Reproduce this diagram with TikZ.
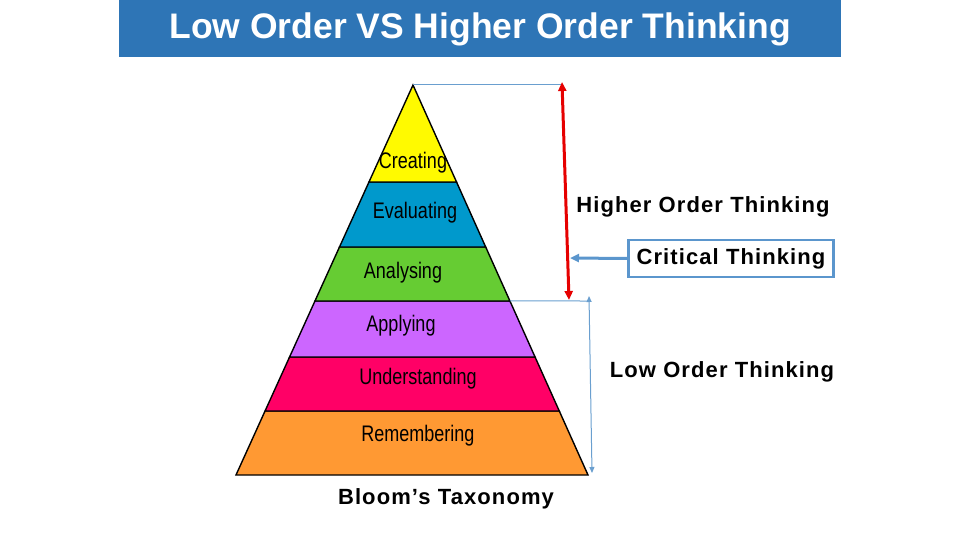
\documentclass[tikz,border=0pt]{standalone}
\usepackage{fontspec}
\setmainfont{Liberation Sans}
\newfontfamily\lblfont[FakeStretch=0.8]{Liberation Sans}
\newfontfamily\annfont[LetterSpace=5]{Liberation Sans}
\usetikzlibrary{calc,arrows.meta}
\definecolor{titleblue}{RGB}{46,117,182}
\definecolor{lnblue}{RGB}{106,159,207}
\definecolor{boxblue}{RGB}{91,150,205}
\definecolor{cYellow}{RGB}{255,250,0}
\definecolor{cBlue}{RGB}{0,153,204}
\definecolor{cGreen}{RGB}{102,204,51}
\definecolor{cPurple}{RGB}{204,102,255}
\definecolor{cPink}{RGB}{255,0,102}
\definecolor{cOrange}{RGB}{255,153,51}
\definecolor{cRed}{RGB}{230,0,0}
\tikzset{
  layer/.style={draw=black, line width=1.4pt, line join=miter},
  lbl/.style={font=\lblfont\fontsize{22.5}{22.5}\selectfont, inner sep=0pt, anchor=center},
  ann/.style={font=\annfont\bfseries\fontsize{22}{22}\selectfont, inner sep=0pt, anchor=center},
  thinblue/.style={draw=lnblue, line width=1pt},
}
\begin{document}
\begin{tikzpicture}[x=1pt,y=-1pt]
\useasboundingbox (0,0) rectangle (960,540);
% title
\fill[titleblue] (119,0) rectangle (841,57);
\node[font=\bfseries\fontsize{35.5}{35.5}\selectfont, text=white, inner sep=0pt] (title) at (480,29) {Low Order VS Higher Order Thinking};
% pyramid
\coordinate (apex) at (413,85);
\coordinate (bl) at (236,475);
\coordinate (br) at (588,475);
\foreach \n/\t in {a/0.2487, b/0.4154, c/0.5538, d/0.6974, e/0.8359}{
  \coordinate (L\n) at ($(apex)!\t!(bl)$);
  \coordinate (R\n) at ($(apex)!\t!(br)$);
}
\filldraw[layer, fill=cOrange] (Le) -- (Re) -- (br) -- (bl) -- cycle;
\filldraw[layer, fill=cPink] (Ld) -- (Rd) -- (Re) -- (Le) -- cycle;
\filldraw[layer, fill=cPurple] (Lc) -- (Rc) -- (Rd) -- (Ld) -- cycle;
\filldraw[layer, fill=cGreen] (Lb) -- (Rb) -- (Rc) -- (Lc) -- cycle;
\filldraw[layer, fill=cBlue] (La) -- (Ra) -- (Rb) -- (Lb) -- cycle;
\filldraw[layer, fill=cYellow] (apex) -- (Ra) -- (La) -- cycle;
\node[lbl] (creating) at (413,163) {Creating};
\node[lbl] (evaluating) at (415,213) {Evaluating};
\node[lbl] (analysing) at (403,273) {Analysing};
\node[lbl] (applying) at (401,326) {Applying};
\node[lbl] (understanding) at (418,379) {Understanding};
\node[lbl] (remembering) at (418,436) {Remembering};
% right-side annotations
\coordinate (ht) at (562,85);
\coordinate (hb) at (569,300);
\coordinate (lt) at (589,301);
\coordinate (lb) at (592,473);
\coordinate (ct) at (570,258);
\draw[thinblue] (apex) -- (ht);
\draw[thinblue] (Rc) -- (lt);
\draw[draw=cRed, line width=3pt, {Triangle[length=9pt,width=8pt]}-{Triangle[length=9pt,width=8pt]}] ($(ht)+(0,-3)$) -- (hb);
\draw[thinblue, {Triangle[length=6pt,width=5pt]}-{Triangle[length=6pt,width=5pt]}] ($(lt)+(0,-5)$) -- (lb);
\node[ann] (higher) at (703,207) {Higher Order Thinking};
\node[ann, draw=boxblue, line width=2.5pt, minimum width=205pt, minimum height=37pt] (critical) at (731,258.5) {Critical Thinking};
\draw[draw=boxblue, line width=3pt, -{Triangle[length=9pt,width=8pt]}] (critical.west) -- (ct);
\node[ann] (low) at (722,372) {Low Order Thinking};
\node[ann] (bloom) at (446,499) {Bloom’s Taxonomy};
\end{tikzpicture}
\end{document}
